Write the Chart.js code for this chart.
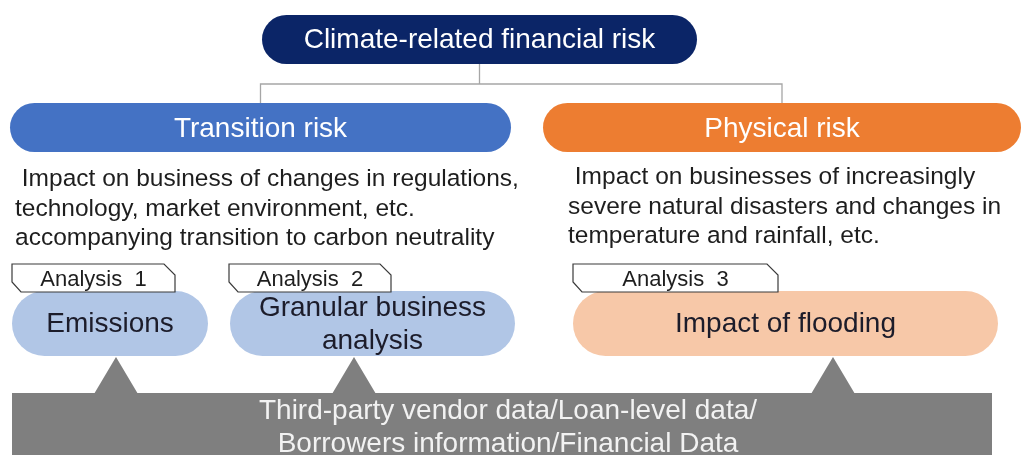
<!DOCTYPE html>
<html>
<head>
<meta charset="utf-8">
<script src="https://cdn.jsdelivr.net/npm/chart.js@4.4.1/dist/chart.umd.min.js"></script>
<style>
  html, body { margin: 0; padding: 0; background: #fff; }
  #wrap { width: 1021px; height: 455px; position: relative; }
</style>
</head>
<body>
<div id="wrap"><canvas id="diagram"></canvas></div>
<script>
// Texts of the diagram
const rootLabel = 'Climate-related financial risk';
const riskLabels = ['Transition risk', 'Physical risk'];
const riskDescriptions = [
    [' Impact on business of changes in regulations,',
     'technology, market environment, etc.',
     'accompanying transition to carbon neutrality'],
    [' Impact on businesses of increasingly',
     'severe natural disasters and changes in',
     'temperature and rainfall, etc.']
];
const analysisTags = ['Analysis  1', 'Analysis  2', 'Analysis  3'];
const analysisTopics = [['Emissions'], ['Granular business', 'analysis'], ['Impact of flooding']];
const dataSources = ['Third-party vendor data/Loan-level data/', 'Borrowers information/Financial Data'];

// Layout in scale units (x: 0..1021, y: 0..455 top-down)
const rootBox = { x0: 262, x1: 697, y0: 15, y1: 64 };
const riskBoxes = [
    { x0: 10, x1: 511, y0: 103, y1: 152 },
    { x0: 543, x1: 1021, y0: 103, y1: 152 }
];
const descStart = [{ x: 15, y: 186 }, { x: 568, y: 184 }];
const tagBoxes = [
    { x0: 12, x1: 175, y0: 264, y1: 292 },
    { x0: 229, x1: 391, y0: 264, y1: 292 },
    { x0: 573, x1: 778, y0: 264, y1: 292 }
];
const topicBoxes = [
    { x0: 12, x1: 208, y0: 291, y1: 356 },
    { x0: 230, x1: 515, y0: 291, y1: 356 },
    { x0: 573, x1: 998, y0: 291, y1: 356 }
];
const arrowTips = [116, 354, 833];
const sourceBox = { x0: 12, x1: 992, y0: 393, y1: 470 };

const FONT = '"Liberation Sans", Arial, sans-serif';
const colors = {
    root: '#0b2567',
    risk: ['#4472c4', '#ed7d31'],
    topic: ['#b1c6e6', '#b1c6e6', '#f7c8a8'],
    connector: '#a6a6a6',
    source: '#7f7f7f'
};

const diagramPlugin = {
    id: 'diagram',
    afterDraw(chart) {
        const ctx = chart.ctx;
        const sx = chart.scales.x, sy = chart.scales.y;
        const px = v => sx.getPixelForValue(v);
        const py = v => sy.getPixelForValue(v);

        function pill(b, fill) {
            const x = px(b.x0), y = py(b.y0);
            const w = px(b.x1) - x, h = py(b.y1) - y;
            ctx.beginPath();
            ctx.roundRect(x, y, w, h, h / 2);
            ctx.fillStyle = fill;
            ctx.fill();
        }
        function text(str, x, y, size, color, align) {
            ctx.font = size + 'px ' + FONT;
            ctx.fillStyle = color;
            ctx.textAlign = align || 'center';
            ctx.textBaseline = 'middle';
            ctx.fillText(str, px(x), py(y));
        }

        ctx.save();

        // connectors
        const midRoot = (rootBox.x0 + rootBox.x1) / 2;
        const midL = (riskBoxes[0].x0 + riskBoxes[0].x1) / 2;
        const midR = (riskBoxes[1].x0 + riskBoxes[1].x1) / 2;
        const barY = 84;
        ctx.strokeStyle = colors.connector;
        ctx.lineWidth = 1.3;
        ctx.beginPath();
        ctx.moveTo(px(midRoot), py(rootBox.y1));
        ctx.lineTo(px(midRoot), py(barY));
        ctx.moveTo(px(midL), py(riskBoxes[0].y0));
        ctx.lineTo(px(midL), py(barY));
        ctx.lineTo(px(midR), py(barY));
        ctx.lineTo(px(midR), py(riskBoxes[1].y0));
        ctx.stroke();

        // root
        pill(rootBox, colors.root);
        text(rootLabel, midRoot, (rootBox.y0 + rootBox.y1) / 2 + 1, 28, '#ffffff');

        // risk categories
        riskBoxes.forEach((b, i) => {
            pill(b, colors.risk[i]);
            text(riskLabels[i], (b.x0 + b.x1) / 2, (b.y0 + b.y1) / 2 + 2, 28, '#ffffff');
            riskDescriptions[i].forEach((line, j) => {
                ctx.font = '24.5px ' + FONT;
                ctx.wordSpacing = '1px';
                ctx.fillStyle = '#1e1e1e';
                ctx.textAlign = 'left';
                ctx.textBaseline = 'alphabetic';
                ctx.fillText(line, px(descStart[i].x), py(descStart[i].y + j * 29.5));
                ctx.wordSpacing = '0px';
            });
        });

        // source box with arrows
        ctx.fillStyle = colors.source;
        ctx.fillRect(px(sourceBox.x0), py(sourceBox.y0),
            px(sourceBox.x1) - px(sourceBox.x0), py(sourceBox.y1) - py(sourceBox.y0));
        arrowTips.forEach((tx, i) => {
            const top = topicBoxes[i].y1 + 1;
            ctx.beginPath();
            ctx.moveTo(px(tx), py(top));
            ctx.lineTo(px(tx + 22), py(sourceBox.y0 + 1));
            ctx.lineTo(px(tx - 22), py(sourceBox.y0 + 1));
            ctx.closePath();
            ctx.fill();
        });
        dataSources.forEach((line, j) => {
            ctx.font = '28px ' + FONT;
            ctx.fillStyle = '#f2f2f2';
            ctx.textAlign = 'center';
            ctx.textBaseline = 'alphabetic';
            ctx.fillText(line, px(508), py(419 + j * 33));
        });

        // analysis topics
        topicBoxes.forEach((b, i) => {
            pill(b, colors.topic[i]);
            const lines = analysisTopics[i];
            const cy = (b.y0 + b.y1) / 2 + 1;
            const lh = 33;
            lines.forEach((line, j) => {
                text(line, (b.x0 + b.x1) / 2, cy + (j - (lines.length - 1) / 2) * lh, 28, '#1c1c2a');
            });
        });

        // analysis tags
        tagBoxes.forEach((b, i) => {
            ctx.beginPath();
            ctx.moveTo(px(b.x0), py(b.y0));
            ctx.lineTo(px(b.x1 - 11), py(b.y0));
            ctx.lineTo(px(b.x1), py(b.y0 + 11));
            ctx.lineTo(px(b.x1), py(b.y1));
            ctx.lineTo(px(b.x0 + 9), py(b.y1));
            ctx.lineTo(px(b.x0), py(b.y1 - 10));
            ctx.closePath();
            ctx.fillStyle = '#ffffff';
            ctx.fill();
            ctx.strokeStyle = '#3a3a3a';
            ctx.lineWidth = 1.2;
            ctx.stroke();
            text(analysisTags[i], (b.x0 + b.x1) / 2, (b.y0 + b.y1) / 2 + 2, 22, '#1e1e1e');
        });

        ctx.restore();
    }
};

new Chart(document.getElementById('diagram'), {
    type: 'scatter',
    data: { datasets: [{ data: [], pointRadius: 0 }] },
    options: {
        responsive: true,
        maintainAspectRatio: false,
        animation: false,
        layout: { padding: 0 },
        plugins: { legend: { display: false }, tooltip: { enabled: false } },
        scales: {
            x: { type: 'linear', min: 0, max: 1021, display: false },
            y: { type: 'linear', min: 0, max: 455, reverse: true, display: false }
        }
    },
    plugins: [diagramPlugin]
});
</script>
</body>
</html>
